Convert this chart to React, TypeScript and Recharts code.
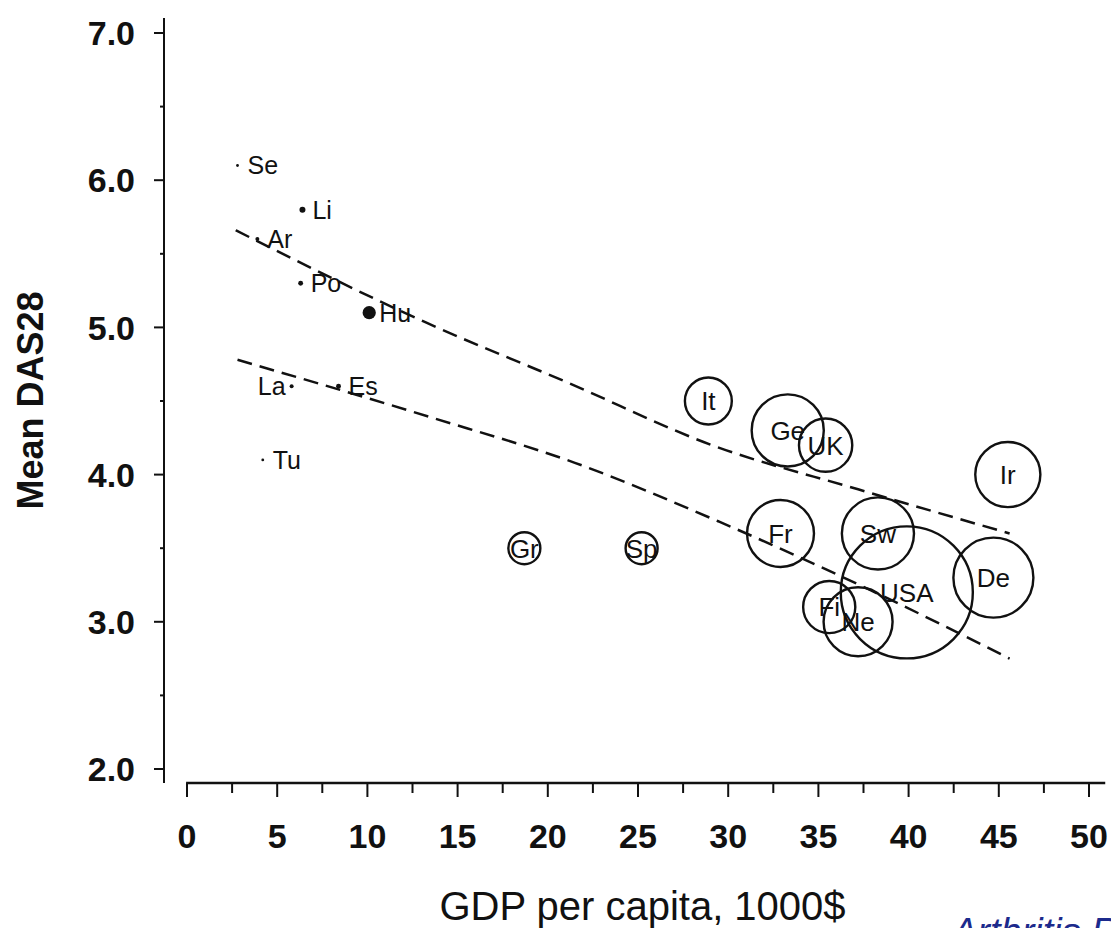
import { ScatterChart, Scatter, XAxis, YAxis, ZAxis, ReferenceLine } from "recharts"

// country codes as printed on the chart
const countries = ["Se", "Li", "Ar", "Po", "Hu", "La", "Es", "Tu", "Gr", "Sp", "It", "Ge", "UK", "Ir", "Fr", "Sw", "USA", "De", "Fi", "Ne"]
// GDP per capita, 1000$
const gdpPerCapita = [2.8, 6.4, 3.9, 6.3, 10.1, 5.8, 8.4, 4.2, 18.7, 25.2, 28.9, 33.3, 35.4, 45.5, 32.9, 38.3, 39.9, 44.7, 35.6, 37.2]
// mean DAS28
const meanDas28 = [6.1, 5.8, 5.6, 5.3, 5.1, 4.6, 4.6, 4.1, 3.5, 3.5, 4.5, 4.3, 4.2, 4.0, 3.6, 3.6, 3.2, 3.3, 3.1, 3.0]
// relative bubble size (area)
const bubbleSize = [0.2, 0.9, 0.4, 0.6, 4.4, 0.4, 0.6, 0.2, 25.6, 25.6, 55, 130, 71, 106, 112, 130, 436, 160, 68, 119]

// dashed bands
const upperBandGdp = [2.7, 13.3, 21.2, 29.1, 37.2, 45.6]
const upperBandDas = [5.66, 5.03, 4.62, 4.2, 3.9, 3.6]
const lowerBandGdp = [2.8, 13.5, 21.5, 29.5, 37.8, 45.6]
const lowerBandDas = [4.78, 4.39, 4.08, 3.68, 3.22, 2.75]

const xTicks = [0, 2.5, 5, 7.5, 10, 12.5, 15, 17.5, 20, 22.5, 25, 27.5, 30, 32.5, 35, 37.5, 40, 42.5, 45, 47.5, 50]
const yTicks = [2, 2.5, 3, 3.5, 4, 4.5, 5, 5.5, 6, 6.5, 7]

const FONT = '"Liberation Sans", Arial, Helvetica, sans-serif'
const INK = "#111"
const MAX_SIZE = 436

function XTick({ x, y, payload }: any) {
    const v = payload.value
    const major = v % 5 === 0
    return (
        <g>
            <line x1={x} x2={x} y1={y} y2={y + (major ? 14 : 10)} stroke={INK} strokeWidth={2} />
            {major && (
                <text x={x} y={y + 65} textAnchor="middle" fontSize={34} fontWeight="bold" fill={INK} fontFamily={FONT}>
                    {v}
                </text>
            )}
        </g>
    )
}

function YTick({ x, y, payload }: any) {
    const v = payload.value
    const major = Number.isInteger(v)
    return (
        <g>
            <line x1={x - (major ? 10 : 4)} x2={x} y1={y} y2={y} stroke={INK} strokeWidth={2} />
            {major && (
                <text x={x - 29} y={y} dy="0.36em" textAnchor="end" fontSize={34} fontWeight="bold" fill={INK} fontFamily={FONT}>
                    {v.toFixed(1)}
                </text>
            )}
        </g>
    )
}

const labelOnLeft = new Set(["La"])

function Bubble(props: any) {
    const { cx, cy, size, payload } = props
    const r = Math.sqrt((size ?? payload.z * 10 * Math.PI) / Math.PI)
    const small = r < 8
    if (small) {
        const left = labelOnLeft.has(payload.name)
        return (
            <g>
                <circle cx={cx} cy={cy} r={r} fill={INK} />
                <text
                    x={left ? cx - 6 : cx + 10}
                    y={cy}
                    dy="0.36em"
                    textAnchor={left ? "end" : "start"}
                    fontSize={25}
                    fill={INK}
                    fontFamily={FONT}
                >
                    {payload.name}
                </text>
            </g>
        )
    }
    return (
        <g>
            <circle cx={cx} cy={cy} r={r} fill="none" stroke={INK} strokeWidth={2.4} />
            <text x={cx} y={cy} dy="0.36em" textAnchor="middle" fontSize={26} fill={INK} fontFamily={FONT}>
                {payload.name}
            </text>
        </g>
    )
}

export default function App() {
    const points = countries.map((name, i) => ({ name, x: gdpPerCapita[i], y: meanDas28[i], z: bubbleSize[i] }))
    const upper = upperBandGdp.map((x, i) => ({ x, y: upperBandDas[i] }))
    const lower = lowerBandGdp.map((x, i) => ({ x, y: lowerBandDas[i] }))
    const bandLine = { stroke: INK, strokeWidth: 2.5, strokeDasharray: "15 8", fill: "none" }

    return (
        <div
            style={{
                position: "absolute",
                left: 0,
                top: 0,
                width: 1111,
                height: 928,
                overflow: "hidden",
                background: "#fff",
                fontFamily: FONT,
            }}
        >
            <ScatterChart width={1111} height={928} margin={{ top: 18, right: 6, bottom: 5, left: 0 }}>
                <XAxis
                    type="number"
                    dataKey="x"
                    domain={[0, 50]}
                    ticks={xTicks}
                    interval={0}
                    padding={{ left: 23, right: 16 }}
                    axisLine={false}
                    tickLine={false}
                    tickSize={0}
                    tickMargin={0}
                    height={140}
                    tick={(p: any) => <XTick {...p} />}
                    label={(p: any) => {
                        const vb = p.viewBox ?? { x: 164, width: 941 }
                        return (
                            <text x={vb.x + vb.width / 2 + 8} y={920} textAnchor="middle" fontSize={40} fill={INK} fontFamily={FONT}>
                                GDP per capita, 1000$
                            </text>
                        )
                    }}
                />
                <YAxis
                    type="number"
                    dataKey="y"
                    domain={[2, 7]}
                    ticks={yTicks}
                    interval={0}
                    padding={{ top: 15, bottom: 14 }}
                    axisLine={{ stroke: INK, strokeWidth: 2 }}
                    tickLine={false}
                    tickSize={0}
                    tickMargin={0}
                    width={164}
                    tick={(p: any) => <YTick {...p} />}
                    label={(p: any) => {
                        const vb = p.viewBox ?? { y: 18, height: 765 }
                        const cy = vb.y + vb.height / 2
                        return (
                            <text
                                x={30}
                                y={cy}
                                transform={`rotate(-90, 30, ${cy})`}
                                dy="0.36em"
                                textAnchor="middle"
                                fontSize={36}
                                fontWeight="bold"
                                fill={INK}
                                fontFamily={FONT}
                            >
                                Mean DAS28
                            </text>
                        )
                    }}
                />
                <ZAxis type="number" dataKey="z" domain={[0, MAX_SIZE]} range={[0, MAX_SIZE * 10 * Math.PI]} />
                {/* x axis line starts right of the y axis, like the original */}
                <ReferenceLine
                    segment={[{ x: -0.05, y: 1.905 }, { x: 50.9, y: 1.905 }]}
                    stroke={INK}
                    strokeWidth={2.5}
                    ifOverflow="visible"
                />
                <Scatter data={points} shape={(p: any) => <Bubble {...p} />} isAnimationActive={false} />
                <Scatter
                    data={upper}
                    line={bandLine}
                    lineType="joint"
                    lineJointType="monotoneX"
                    fill="none"
                    shape={() => <g />}
                    isAnimationActive={false}
                />
                <Scatter
                    data={lower}
                    line={bandLine}
                    lineType="joint"
                    lineJointType="monotoneX"
                    fill="none"
                    shape={() => <g />}
                    isAnimationActive={false}
                />
            </ScatterChart>
            {/* source watermark, cropped at the bottom edge in the original */}
            <div
                style={{
                    position: "absolute",
                    left: 952,
                    top: 913,
                    fontSize: 38,
                    lineHeight: "38px",
                    fontStyle: "italic",
                    color: "#1c2a8c",
                    whiteSpace: "nowrap",
                }}
            >
                Arthritis Research &amp; Therapy
            </div>
        </div>
    )
}
